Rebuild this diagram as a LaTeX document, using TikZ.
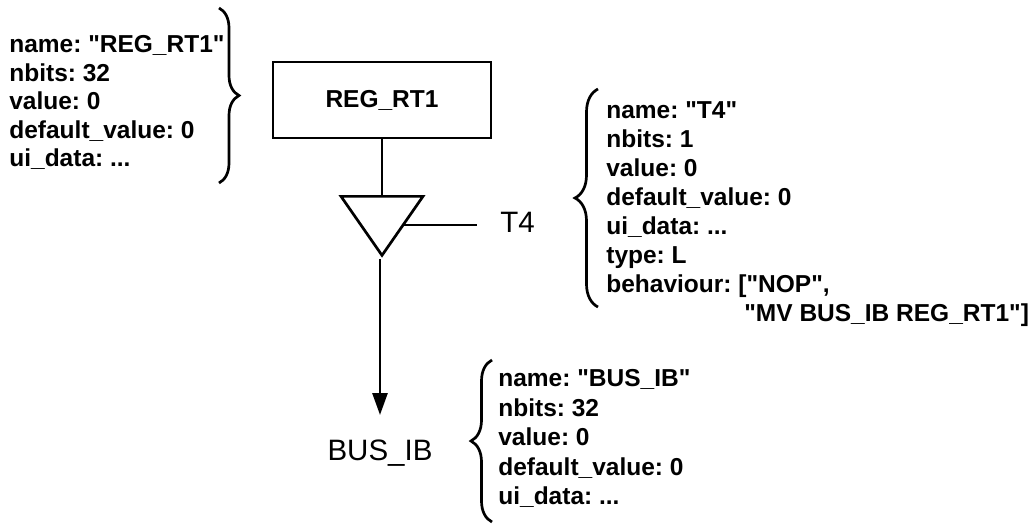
\documentclass[tikz,border=0pt]{standalone}
\usepackage{fontspec}
\setmainfont{Liberation Sans}[Ligatures=TeXOff]
\usetikzlibrary{arrows.meta,shapes.geometric,decorations.pathreplacing}
\begin{document}
\begin{tikzpicture}[x=1pt,y=-1pt,line width=2.7pt]
\tikzset{
  attrs/.style={anchor=north west,inner sep=0pt,align=left,font=\fontsize{24.5}{#1}\selectfont\bfseries\frenchspacing},
  wire/.style={font=\fontsize{29.5}{32}\selectfont,inner sep=0pt},
  curly/.style={decorate,decoration={brace,amplitude=#1,aspect=0.5}}
}
\useasboundingbox (0,0) rectangle (1033,523);
\node[draw,minimum width=218pt,minimum height=76pt,inner sep=0pt,font=\fontsize{24.5}{28}\selectfont\bfseries] (regrt) at (382,100) {REG\_RT1};
\node[draw,isosceles triangle,shape border rotate=270,isosceles triangle stretches=true,
  minimum width=82pt,minimum height=59pt,inner sep=0pt,anchor=lower side] (tri) at (382,195) {};
\node[wire,anchor=west] (tfour) at (499,222) {T4};
\node[wire] (busib) at (380,453) {BUS\_IB};
\coordinate (tend) at (477,225);
\coordinate (busend) at (380,415);
\draw (regrt.south) -- (tri.lower side);
\draw (tri.left side |- tend) -- (tend);
\draw[-{Triangle[length=22pt,width=15pt]}] (tri.apex -| busend) -- (busend);
% attributes
\node[attrs=28.6] (regattrs) at (8,34) {name: "REG\_RT1"\\nbits: 32\\value: 0\\default\_value: 0\\ui\_data: ...};
\node[attrs=29.1] (tattrs) at (605,100) {name: "T4"\\nbits: 1\\value: 0\\default\_value: 0\\ui\_data: ...\\type: L\\behaviour: ["NOP",\\\hspace*{138pt}"MV BUS\_IB REG\_RT1"]};
\node[attrs=29.6] (busattrs) at (497,368) {name: "BUS\_IB"\\nbits: 32\\value: 0\\default\_value: 0\\ui\_data: ...};
\draw[curly=20pt] (219,8) -- (219,183);
\draw[curly=23pt] (598,307) -- (598,89);
\draw[curly=21pt] (492,522) -- (492,360);
\end{tikzpicture}
\end{document}
